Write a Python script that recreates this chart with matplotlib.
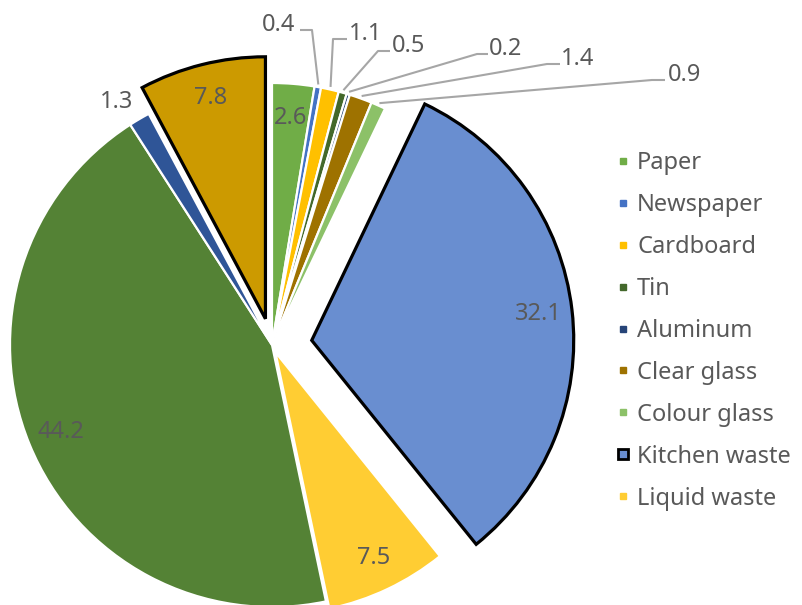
import math
import matplotlib.pyplot as plt
from matplotlib.lines import Line2D

# waste composition (%), clockwise from 12 o'clock
categories = ['Paper', 'Newspaper', 'Cardboard', 'Tin', 'Aluminum', 'Clear glass',
              'Colour glass', 'Kitchen waste', 'Liquid waste']
shares = [2.6, 0.4, 1.1, 0.5, 0.2, 1.4, 0.9, 32.1, 7.5, 44.2, 1.3, 7.8]
colors = ['#70AD47', '#4472C4', '#FFC000', '#43682B', '#264478', '#9E7200',
          '#8CC168', '#698ED0', '#FFCD33', '#548235', '#2F5597', '#CC9A00']

W, H = 803, 605
CX, CY, R = 272, H - 345, 262
explode = [0, 0, 0, 0, 0, 0, 0, 40, 8, 0, 0, 27]
outlined = [7, 11]
TXT = '#595959'
FONT = 'Noto Sans'
FS = 17

plt.rcParams['font.family'] = [FONT, 'DejaVu Sans']

fig = plt.figure(figsize=(W / 100, H / 100), dpi=100)
ax = fig.add_axes([0, 0, 1, 1])
wedges, _ = ax.pie(shares, colors=colors, explode=explode, startangle=90,
                   counterclock=False, center=(CX, CY), radius=R, frame=True,
                   wedgeprops=dict(edgecolor='white', linewidth=1.6))
ax.set_xlim(0, W)
ax.set_ylim(0, H)
ax.axis('off')

for i in outlined:
    wedges[i].set_edgecolor('black')
    wedges[i].set_linewidth(2.3)
    wedges[i].set_zorder(3)


def on_wedge(i, frac):
    w = wedges[i]
    mid = math.radians((w.theta1 + w.theta2) / 2)
    return w.center[0] + frac * w.r * math.cos(mid), w.center[1] + frac * w.r * math.sin(mid)


# labels inside the large slices
for i in [0, 7, 8, 9, 11]:
    x, y = on_wedge(i, 0.87)
    ax.text(x, y, f'{shares[i]:g}', ha='center', va='center', fontsize=FS, color=TXT)

# 1.3 sits just outside its slice
x, y = on_wedge(10, 1.05)
ax.text(x + 1, y + 6, f'{shares[10]:g}', ha='right', va='center', fontsize=FS, color=TXT)

# small slices get leader lines: (slice, line y, elbow x, end x, text x, ha)
leaders = [
    (1, 30, 312, 300, 295, 'right'),
    (2, 39, 333, 347, 349, 'left'),
    (3, 51, 378, 390, 392, 'left'),
    (4, 54, 477, 488, 489, 'left'),
    (5, 64, 547, 560, 561, 'left'),
    (6, 80, 652, 665, 668, 'left'),
]
for i, ly, ex, endx, tx, ha in leaders:
    x0, y0 = on_wedge(i, 1.01)
    ax.plot([x0, ex, endx], [y0, H - ly, H - ly], color='#A6A6A6', lw=1.5,
            solid_capstyle='butt', zorder=4)
    ax.text(tx, H - ly - 1, f'{shares[i]:g}', ha=ha, va='baseline', fontsize=FS, color=TXT)

# legend lists the named categories only
handles = []
for i, name in enumerate(categories):
    if i in outlined:
        h = Line2D([], [], ls='none', marker='s', markersize=7.5, markerfacecolor=colors[i],
                   markeredgecolor='black', markeredgewidth=2)
    else:
        h = Line2D([], [], ls='none', marker='s', markersize=5, markerfacecolor=colors[i],
                   markeredgecolor=colors[i])
    handles.append(h)
leg = ax.legend(handles, categories, loc='upper left', bbox_to_anchor=(617 / W, 1 - 151 / H),
                frameon=False, fontsize=FS, handlelength=0.55, handletextpad=0.3,
                labelspacing=0.76, borderpad=0, borderaxespad=0)
for t in leg.get_texts():
    t.set_color(TXT)

fig.savefig('out.png', dpi=100)
